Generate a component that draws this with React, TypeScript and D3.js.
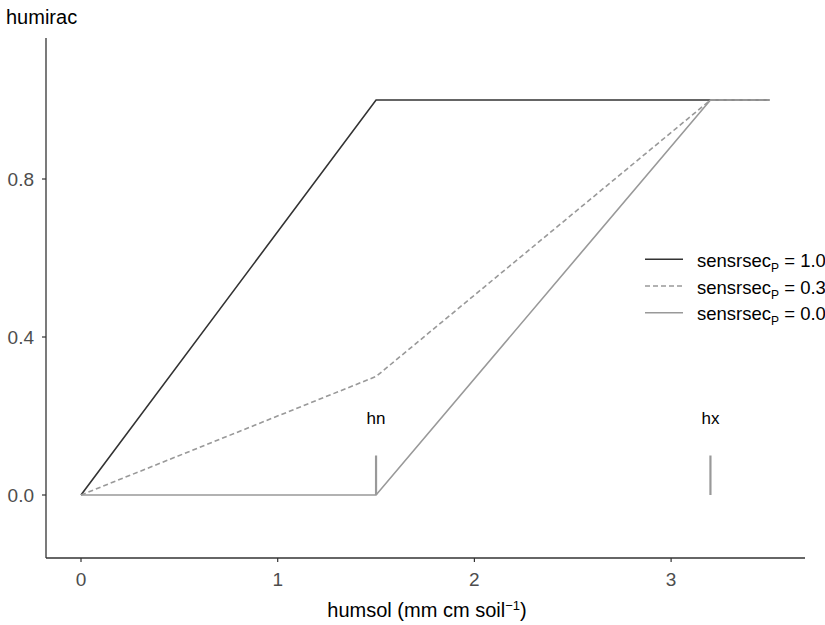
import React from "react";
import * as d3 from "d3";

const humsol1 = [0, 1.5, 3.5];
const humirac1 = [0, 1, 1];
const humsol03 = [0, 1.5, 3.2, 3.5];
const humirac03 = [0, 0.3, 1, 1];
const humsol0 = [0, 1.5, 3.2, 3.5];
const humirac0 = [0, 0, 1, 1];
const markerNames = ["hn", "hx"];
const markerX = [1.5, 3.2];
const markerTop = 0.1;
const markerLabelY = 0.2;
const xTicks = [0, 1, 2, 3];
const yTicks = [0, 0.4, 0.8];
const legendLabels = ["1.0", "0.3", "0.0"];

const W = 825, H = 625;
const font = "'Liberation Sans', Arial, Helvetica, sans-serif";

export default function App() {
  const x = d3.scaleLinear().domain([0, 1]).range([81, 277.7]);
  const y = d3.scaleLinear().domain([0, 0.8]).range([495, 179]);
  const xLeft = 46, xRight = 805, yTop = 38, yBottom = 558;

  const line = d3.line<[number, number]>().x(d => x(d[0])).y(d => y(d[1]));
  const mk = (xs: number[], ys: number[]) => xs.map((v, i) => [v, ys[i]] as [number, number]);

  const dark = "#333333";
  const grey = "#999999";
  const series = [
    { d: mk(humsol1, humirac1), color: dark, dash: undefined as string | undefined },
    { d: mk(humsol03, humirac03), color: grey, dash: "5,3" },
    { d: mk(humsol0, humirac0), color: grey, dash: undefined },
  ];

  return (
    <svg width={W} height={H} style={{ position: "absolute", left: 0, top: 0, background: "#fff" }}>
      {/* axes */}
      <line x1={xLeft} x2={xLeft} y1={yTop} y2={yBottom} stroke={dark} strokeWidth={1.3} />
      <line x1={xLeft} x2={xRight} y1={yBottom} y2={yBottom} stroke={dark} strokeWidth={1.3} />
      {xTicks.map(t => (
        <g key={"x" + t}>
          <line x1={x(t)} x2={x(t)} y1={yBottom} y2={yBottom + 4} stroke={dark} strokeWidth={1.2} />
          <text x={x(t)} y={yBottom + 28} textAnchor="middle" fontFamily={font} fontSize={19} fill="#4d4d4d">{d3.format("d")(t)}</text>
        </g>
      ))}
      {yTicks.map(t => (
        <g key={"y" + t}>
          <line x1={xLeft - 4} x2={xLeft} y1={y(t)} y2={y(t)} stroke={dark} strokeWidth={1.2} />
          <text x={xLeft - 12} y={y(t) + 7} textAnchor="end" fontFamily={font} fontSize={19} fill="#4d4d4d">{d3.format(".1f")(t)}</text>
        </g>
      ))}
      <text x={6} y={24} fontFamily={font} fontSize={20} fill="#000">humirac</text>
      <text x={427} y={617} textAnchor="middle" fontFamily={font} fontSize={20} fill="#000">
        humsol (mm cm soil<tspan dy={-7} fontSize={13}>−1</tspan><tspan dy={7}>)</tspan>
      </text>

      {/* series */}
      {series.map((s, i) => (
        <path key={i} d={line(s.d) || ""} fill="none" stroke={s.color} strokeWidth={1.6} strokeDasharray={s.dash} />
      ))}

      {/* markers */}
      {markerNames.map((n, i) => (
        <g key={n}>
          <line x1={x(markerX[i])} x2={x(markerX[i])} y1={y(0)} y2={y(markerTop)} stroke={grey} strokeWidth={2.2} />
          <text x={x(markerX[i])} y={y(markerLabelY) + 8} textAnchor="middle" fontFamily={font} fontSize={17} fill="#000">{n}</text>
        </g>
      ))}

      {/* legend */}
      {legendLabels.map((l, i) => {
        const ly = 259.3 + i * 26.7;
        const s = series[i];
        return (
          <g key={l}>
            <line x1={645} x2={683} y1={ly} y2={ly} stroke={s.color} strokeWidth={1.6} strokeDasharray={s.dash} />
            <text x={697} y={ly + 7.5} fontFamily={font} fontSize={18.5} fill="#000">
              sensrsec<tspan dy={5} fontSize={12}>P</tspan><tspan dy={-5}> = {l}</tspan>
            </text>
          </g>
        );
      })}
    </svg>
  );
}
